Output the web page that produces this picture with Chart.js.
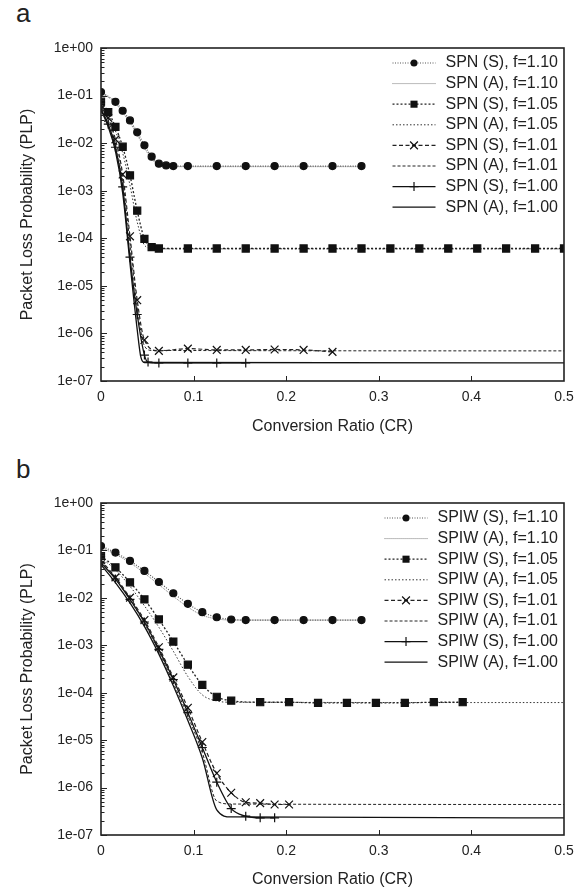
<!DOCTYPE html>
<html>
<head>
<meta charset="utf-8">
<script src="https://cdn.jsdelivr.net/npm/chart.js@4"></script>
<style>
  body { margin: 0; background: #fff; width: 588px; height: 890px; position: relative; overflow: hidden; }
  .panel { position: absolute; left: 0; width: 588px; height: 445px; }
  .tag { position: absolute; left: 16px; font: 26px "Liberation Sans", Arial, sans-serif; line-height: 1; color: #222; }
</style>
</head>
<body>
<div class="tag" style="top:0px">a</div>
<div class="tag" style="top:456px">b</div>
<div class="panel" style="top:0"><canvas id="spn" width="588" height="445"></canvas></div>
<div class="panel" style="top:445px"><canvas id="spiw" width="588" height="445"></canvas></div>
<script>
const FONT = '"Liberation Sans", Arial, sans-serif';

// ---- panel a : SPN ----
const spnS110_cr = [0, 0.0156, 0.0234, 0.0313, 0.0391, 0.0469, 0.0547, 0.0625, 0.0703, 0.0781, 0.0938, 0.125, 0.1563, 0.1875, 0.2188, 0.25, 0.2813];
const spnS110_plp = [0.119, 0.074, 0.048, 0.030, 0.0169, 0.009, 0.0052, 0.0037, 0.0034, 0.0033, 0.0033, 0.0033, 0.0033, 0.0033, 0.0033, 0.0033, 0.0033];
const spnA110_cr = [0, 0.0078, 0.0156, 0.0234, 0.0313, 0.0391, 0.0469, 0.0547, 0.0625, 0.0703, 0.0781, 0.2813];
const spnA110_plp = [0.112, 0.092, 0.068, 0.044, 0.027, 0.015, 0.008, 0.0046, 0.0036, 0.0033, 0.0032, 0.0032];
const spnS105_cr = [0, 0.0078, 0.0156, 0.0234, 0.0313, 0.0391, 0.0469, 0.0547, 0.0625, 0.0938, 0.125, 0.1563, 0.1875, 0.2188, 0.25, 0.2813, 0.3125, 0.3438, 0.375, 0.4063, 0.4375, 0.4688, 0.5];
const spnS105_plp = [0.075, 0.045, 0.022, 0.0084, 0.0021, 0.00038, 9.7e-5, 6.5e-5, 6.1e-5, 6.1e-5, 6.1e-5, 6.1e-5, 6.1e-5, 6.1e-5, 6.1e-5, 6.1e-5, 6.1e-5, 6.1e-5, 6.1e-5, 6.1e-5, 6.1e-5, 6.1e-5, 6.1e-5];
const spnA105_cr = [0, 0.0078, 0.0156, 0.0234, 0.0313, 0.0391, 0.0469, 0.0547, 0.0625, 0.5];
const spnA105_plp = [0.07, 0.04, 0.018, 0.0062, 0.0013, 0.00022, 7.2e-5, 6.1e-5, 6.0e-5, 6.0e-5];
const spnS101_cr = [0, 0.0078, 0.0156, 0.0234, 0.0313, 0.0391, 0.0469, 0.0625, 0.0938, 0.125, 0.1563, 0.1875, 0.2188, 0.25];
const spnS101_plp = [0.062, 0.034, 0.012, 0.0022, 1.1e-4, 5e-6, 7.3e-7, 4.3e-7, 4.8e-7, 4.5e-7, 4.5e-7, 4.6e-7, 4.5e-7, 4.1e-7];
const spnA101_cr = [0, 0.0078, 0.0156, 0.0234, 0.0313, 0.0391, 0.0469, 0.0547, 0.5];
const spnA101_plp = [0.058, 0.03, 0.0095, 0.0016, 8e-5, 3.5e-6, 5.5e-7, 4.4e-7, 4.3e-7];
const spnS100_cr = [0, 0.0078, 0.0156, 0.0234, 0.0313, 0.0391, 0.0469, 0.0508, 0.0625, 0.0938, 0.125, 0.1563];
const spnS100_plp = [0.052, 0.025, 0.0082, 0.0012, 4e-5, 2.5e-6, 3.5e-7, 2.5e-7, 2.4e-7, 2.4e-7, 2.4e-7, 2.4e-7];
const spnA100_cr = [0, 0.0078, 0.0156, 0.0234, 0.0313, 0.0391, 0.043, 0.0469, 0.5];
const spnA100_plp = [0.05, 0.022, 0.0068, 0.0009, 3e-5, 1.2e-6, 3.2e-7, 2.45e-7, 2.4e-7];

// ---- panel b : SPIW ----
const spiwS110_cr = [0, 0.0156, 0.0313, 0.0469, 0.0625, 0.0781, 0.0938, 0.1094, 0.125, 0.1406, 0.1563, 0.1875, 0.2188, 0.25, 0.2813];
const spiwS110_plp = [0.124, 0.09, 0.06, 0.037, 0.0216, 0.0125, 0.0075, 0.005, 0.0039, 0.0035, 0.0034, 0.0034, 0.0034, 0.0034, 0.0034];
const spiwA110_cr = [0, 0.0156, 0.0313, 0.0469, 0.0625, 0.0781, 0.0938, 0.1094, 0.125, 0.1406, 0.2813];
const spiwA110_plp = [0.115, 0.083, 0.055, 0.033, 0.019, 0.0108, 0.0064, 0.0043, 0.0036, 0.0034, 0.0034];
const spiwS105_cr = [0, 0.0156, 0.0313, 0.0469, 0.0625, 0.0781, 0.0938, 0.1094, 0.125, 0.1406, 0.1719, 0.2031, 0.2344, 0.2656, 0.2969, 0.3281, 0.3594, 0.3906];
const spiwS105_plp = [0.076, 0.044, 0.0213, 0.0093, 0.0035, 0.0012, 0.00039, 0.000146, 8.2e-5, 6.8e-5, 6.3e-5, 6.3e-5, 6.1e-5, 6.1e-5, 6.1e-5, 6.1e-5, 6.3e-5, 6.3e-5];
const spiwA105_cr = [0, 0.0156, 0.0313, 0.0469, 0.0625, 0.0781, 0.0938, 0.1094, 0.125, 0.1406, 0.5];
const spiwA105_plp = [0.07, 0.039, 0.0175, 0.0068, 0.0024, 0.00075, 0.00022, 9e-5, 6.7e-5, 6.3e-5, 6.2e-5];
const spiwS101_cr = [0, 0.0156, 0.0313, 0.0469, 0.0625, 0.0781, 0.0938, 0.1094, 0.125, 0.1406, 0.1563, 0.1719, 0.1875, 0.2031];
const spiwS101_plp = [0.062, 0.027, 0.0101, 0.0034, 0.00091, 0.00021, 4.8e-5, 9.1e-6, 2.0e-6, 7.8e-7, 4.9e-7, 4.7e-7, 4.4e-7, 4.4e-7];
const spiwA101_cr = [0, 0.0156, 0.0313, 0.0469, 0.0625, 0.0781, 0.0938, 0.1094, 0.125, 0.1406, 0.5];
const spiwA101_plp = [0.058, 0.025, 0.0092, 0.0029, 0.00075, 0.00016, 3.2e-5, 5.5e-6, 5.2e-7, 4.5e-7, 4.4e-7];
const spiwS100_cr = [0, 0.0156, 0.0313, 0.0469, 0.0625, 0.0781, 0.0938, 0.1094, 0.125, 0.1406, 0.1563, 0.1719, 0.1875];
const spiwS100_plp = [0.055, 0.025, 0.0093, 0.0031, 0.00082, 0.00019, 3.8e-5, 7e-6, 1.3e-6, 3.6e-7, 2.5e-7, 2.3e-7, 2.3e-7];
const spiwA100_cr = [0, 0.0156, 0.0313, 0.0469, 0.0625, 0.0781, 0.0938, 0.1094, 0.125, 0.1406, 0.5];
const spiwA100_plp = [0.05, 0.021, 0.0078, 0.0025, 0.00065, 0.00014, 2.6e-5, 4.2e-6, 3.4e-7, 2.4e-7, 2.3e-7];

const yDecades = [1e-7, 1e-6, 1e-5, 1e-4, 1e-3, 1e-2, 1e-1, 1];
const xTicks = [0, 0.1, 0.2, 0.3, 0.4, 0.5];

const pts = (cr, plp) => cr.map((x, i) => ({ x, y: plp[i] }));

// line / marker style for the 8 curves, same order in both panels
const styles = [
  { color: '#555', width: 1.2, dash: [1, 1.5], marker: 'circle', r: 3.5 },
  { color: '#777', width: 1, dash: [1, 1], marker: null },
  { color: '#222', width: 1.3, dash: [2, 2], marker: 'rect', r: 5 },
  { color: '#333', width: 1, dash: [1.5, 2], marker: null },
  { color: '#222', width: 1.2, dash: [4, 2.5], marker: 'crossRot', r: 5.5 },
  { color: '#222', width: 1, dash: [3, 2], marker: null },
  { color: '#111', width: 1.3, dash: [], marker: 'cross', r: 4.5 },
  { color: '#111', width: 1.3, dash: [], marker: null }
];

function makeSets(prefix, series) {
  const names = ['(S), f=1.10', '(A), f=1.10', '(S), f=1.05', '(A), f=1.05', '(S), f=1.01', '(A), f=1.01', '(S), f=1.00', '(A), f=1.00'];
  return series.map((s, i) => {
    const st = styles[i];
    return {
      label: prefix + ' ' + names[i],
      data: pts(s[0], s[1]),
      borderColor: st.color,
      borderWidth: st.width,
      borderDash: st.dash,
      cubicInterpolationMode: 'monotone',
      pointStyle: st.marker || 'circle',
      pointRadius: st.marker ? st.r : 0,
      pointBorderWidth: 1.2,
      pointBackgroundColor: '#111',
      pointBorderColor: '#111',
      fill: false,
      marker: st.marker
    };
  });
}

function drawMarker(ctx, style, r, x, y) {
  ctx.beginPath();
  if (style === 'circle') {
    ctx.arc(x, y, r, 0, Math.PI * 2);
    ctx.fill();
  } else if (style === 'rect') {
    const s = r * Math.SQRT1_2;
    ctx.fillRect(x - s, y - s, 2 * s, 2 * s);
  } else if (style === 'cross') {
    ctx.moveTo(x - r, y); ctx.lineTo(x + r, y);
    ctx.moveTo(x, y - r); ctx.lineTo(x, y + r);
    ctx.stroke();
  } else if (style === 'crossRot') {
    const s = r * Math.SQRT1_2;
    ctx.moveTo(x - s, y - s); ctx.lineTo(x + s, y + s);
    ctx.moveTo(x - s, y + s); ctx.lineTo(x + s, y - s);
    ctx.stroke();
  }
}

// frame, inward ticks and the boxed legend
const decor = {
  id: 'decor',
  afterDraw(chart) {
    const { ctx, chartArea: a, scales } = chart;
    ctx.save();
    ctx.strokeStyle = '#222';
    ctx.lineWidth = 1.6;
    ctx.setLineDash([]);
    ctx.strokeRect(a.left, a.top, a.right - a.left, a.bottom - a.top);

    ctx.lineWidth = 1;
    ctx.beginPath();
    xTicks.slice(1, -1).forEach(v => {
      const px = Math.round(scales.x.getPixelForValue(v)) + 0.5;
      ctx.moveTo(px, a.bottom); ctx.lineTo(px, a.bottom - 5);
    });
    yDecades.forEach((d, k) => {
      if (k < yDecades.length - 1) {
        for (let m = 2; m <= 9; m++) {
          const py = Math.round(scales.y.getPixelForValue(d * m)) + 0.5;
          ctx.moveTo(a.left, py); ctx.lineTo(a.left + 3.5, py);
        }
      }
      const py = Math.round(scales.y.getPixelForValue(d)) + 0.5;
      ctx.moveTo(a.left, py); ctx.lineTo(a.left + 6, py);
    });
    ctx.stroke();

    // legend
    ctx.font = '16px ' + FONT;
    ctx.textBaseline = 'middle';
    ctx.textAlign = 'left';
    const sets = chart.data.datasets;
    const maxW = Math.max(...sets.map(d => ctx.measureText(d.label).width));
    const textX = a.right - 6 - maxW;
    const x1 = textX - 10, x0 = x1 - 43;
    sets.forEach((ds, i) => {
      const y = a.top + 15 + i * 20.6;
      ctx.strokeStyle = ds.borderColor;
      ctx.lineWidth = ds.borderWidth;
      ctx.setLineDash(ds.borderDash);
      ctx.beginPath();
      ctx.moveTo(x0, y); ctx.lineTo(x1, y);
      ctx.stroke();
      ctx.setLineDash([]);
      if (ds.marker) {
        ctx.fillStyle = '#111';
        ctx.strokeStyle = '#111';
        ctx.lineWidth = 1.2;
        drawMarker(ctx, ds.marker, ds.pointRadius, (x0 + x1) / 2, y);
      }
      ctx.fillStyle = '#222';
      ctx.fillText(ds.label, textX, y);
    });
    ctx.restore();
  }
};

function makeChart(id, datasets, geo) {
  return new Chart(document.getElementById(id), {
    type: 'line',
    data: { datasets },
    options: {
      responsive: false,
      animation: false,
      devicePixelRatio: 1,
      layout: { padding: { top: geo.top, right: 24, left: 0, bottom: 0 } },
      plugins: { legend: { display: false }, tooltip: { enabled: false } },
      scales: {
        x: {
          type: 'linear',
          min: 0, max: 0.5,
          grid: { display: false, drawTicks: false },
          border: { display: false },
          afterBuildTicks: s => { s.ticks = xTicks.map(v => ({ value: v })); },
          afterFit: s => { s.height = geo.xHeight; },
          ticks: {
            padding: 8,
            color: '#222',
            font: { family: FONT, size: 14 },
            callback: v => String(+v.toFixed(1))
          },
          title: {
            display: true,
            text: 'Conversion Ratio (CR)',
            color: '#222',
            font: { family: FONT, size: 16 },
            padding: { top: 0, bottom: geo.titlePad }
          }
        },
        y: {
          type: 'logarithmic',
          min: 1e-7, max: 1,
          grid: { display: false, drawTicks: false },
          border: { display: false },
          afterBuildTicks: s => { s.ticks = yDecades.map(v => ({ value: v })); },
          afterFit: s => { s.width = 101; },
          ticks: {
            padding: 8,
            color: '#222',
            font: { family: FONT, size: 14 },
            callback: v => {
              const e = Math.round(Math.log10(v));
              return '1e' + (e < 0 ? '-' : '+') + String(Math.abs(e)).padStart(2, '0');
            }
          },
          title: {
            display: true,
            text: 'Packet Loss Probability (PLP)',
            color: '#222',
            font: { family: FONT, size: 16 },
            padding: { top: 18, bottom: 0 }
          }
        }
      }
    },
    plugins: [decor]
  });
}

makeChart('spn', makeSets('SPN', [
  [spnS110_cr, spnS110_plp], [spnA110_cr, spnA110_plp],
  [spnS105_cr, spnS105_plp], [spnA105_cr, spnA105_plp],
  [spnS101_cr, spnS101_plp], [spnA101_cr, spnA101_plp],
  [spnS100_cr, spnS100_plp], [spnA100_cr, spnA100_plp]
]), { top: 48, xHeight: 64, titlePad: 9 });

makeChart('spiw', makeSets('SPIW', [
  [spiwS110_cr, spiwS110_plp], [spiwA110_cr, spiwA110_plp],
  [spiwS105_cr, spiwS105_plp], [spiwA105_cr, spiwA105_plp],
  [spiwS101_cr, spiwS101_plp], [spiwA101_cr, spiwA101_plp],
  [spiwS100_cr, spiwS100_plp], [spiwA100_cr, spiwA100_plp]
]), { top: 58, xHeight: 55, titlePad: 1 });
</script>
</body>
</html>
